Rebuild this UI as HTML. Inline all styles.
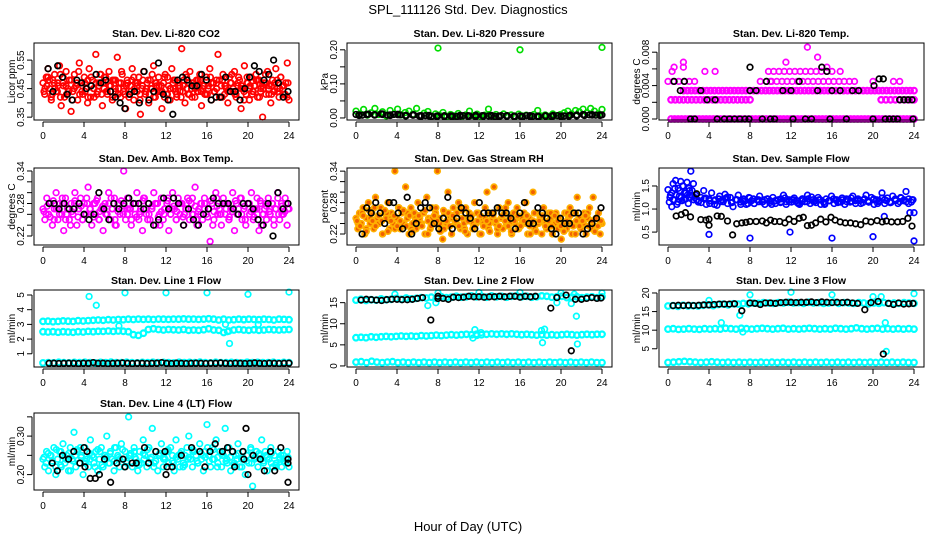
<!DOCTYPE html>
<html><head><meta charset="utf-8">
<style>
html,body{margin:0;padding:0;background:#fff;}
svg{display:block;font-family:"Liberation Sans",Arial,sans-serif;}
</style></head>
<body>
<svg id="chart" width="936" height="540" viewBox="0 0 936 540">
<text x="468" y="14" text-anchor="middle" font-size="13">SPL_111126  Std. Dev. Diagnostics</text>
<text x="468" y="531" text-anchor="middle" font-size="13">Hour of Day (UTC)</text>
</svg>
<script>
// ---------- data ----------
const xTicks = [0,4,8,12,16,20,24];

const co2Red = [0.47,0.43,0.49,0.52,0.45,0.41,0.48,0.50,0.44,0.46,0.53,0.39,0.47,0.42,0.51,0.45,0.48,0.37,0.44,0.50,0.46,0.41,0.54,0.47,0.43,0.49,0.45,0.40,0.52,0.46,0.48,0.42,0.57,0.44,0.47,0.50,0.39,0.45,0.49,0.43,0.51,0.46,0.41,0.48,0.44,0.56,0.47,0.42,0.50,0.45,0.38,0.48,0.43,0.46,0.52,0.41,0.47,0.44,0.49,0.36,0.45,0.51,0.43,0.47,0.40,0.48,0.45,0.53,0.42,0.46,0.49,0.44,0.38,0.47,0.50,0.43,0.46,0.41,0.52,0.45,0.48,0.42,0.47,0.44,0.59,0.46,0.40,0.49,0.43,0.51,0.45,0.47,0.42,0.48,0.44,0.50,0.39,0.46,0.43,0.49,0.45,0.52,0.41,0.47,0.44,0.48,0.57,0.42,0.46,0.50,0.43,0.45,0.40,0.49,0.47,0.44,0.51,0.42,0.46,0.48,0.38,0.45,0.53,0.43,0.47,0.41,0.49,0.44,0.46,0.50,0.42,0.48,0.45,0.35,0.47,0.43,0.51,0.46,0.40,0.48,0.44,0.52,0.45,0.42,0.49,0.46,0.43,0.47,0.54,0.41];
const co2Red2 = [0.45,0.49,0.42,0.47,0.44,0.50,0.46,0.43,0.48,0.41,0.46,0.51,0.44,0.47,0.42,0.49,0.45,0.43,0.50,0.47,0.44,0.46,0.42,0.48,0.45,0.51,0.43,0.47,0.44,0.49,0.46,0.41,0.48,0.45,0.43,0.50,0.47,0.44,0.46,0.42,0.49,0.45,0.48,0.43,0.46,0.44,0.50,0.47,0.42,0.45,0.48,0.44,0.46,0.43,0.49,0.47,0.45,0.42,0.48,0.46,0.44,0.50,0.43,0.47,0.45,0.41,0.49,0.46,0.44,0.48,0.42,0.46,0.50,0.45,0.43,0.47,0.44,0.49,0.46,0.42];
const co2Red3 = [0.44,0.46,0.48,0.43,0.45,0.47,0.42,0.49,0.46,0.44,0.48,0.45,0.47,0.43,0.46,0.44,0.48,0.42,0.45,0.47,0.46,0.43,0.49,0.44,0.46,0.48,0.45,0.43,0.47,0.44,0.46,0.42,0.48,0.45,0.47,0.43,0.46,0.44,0.48,0.45,0.42,0.47,0.46,0.44,0.49,0.43,0.45,0.47,0.44,0.46,0.42,0.48,0.45,0.43,0.47,0.46,0.44,0.48,0.45,0.43,0.46,0.47,0.44,0.45,0.48,0.42,0.46,0.44,0.47,0.45,0.43,0.49,0.46,0.44,0.47,0.45,0.43,0.46,0.48,0.44,0.45,0.47,0.43,0.46,0.44,0.48,0.45,0.46,0.43,0.47];
const co2Black = [0.52,0.44,0.53,0.49,0.43,0.41,0.48,0.47,0.45,0.46,0.50,0.47,0.48,0.44,0.42,0.40,0.38,0.43,0.44,0.40,0.51,0.41,0.44,0.54,0.43,0.41,0.36,0.48,0.49,0.48,0.46,0.46,0.50,0.48,0.41,0.42,0.42,0.49,0.44,0.44,0.41,0.45,0.49,0.53,0.51,0.48,0.50,0.55,0.47,0.42,0.44];

const presGreen = [0.02,0.012,0.025,0.008,0.015,0.028,0.01,0.018,0.006,0.022,0.012,0.026,0.009,0.016,0.02,0.011,0.028,0.007,0.014,0.019,0.005,0.012,0.008,0.016,0.004,0.01,0.006,0.013,0.005,0.009,0.02,0.007,0.011,0.004,0.008,0.026,0.006,0.01,0.005,0.012,0.007,0.009,0.004,0.011,0.006,0.008,0.005,0.01,0.022,0.006,0.009,0.005,0.012,0.007,0.01,0.015,0.02,0.012,0.022,0.018,0.026,0.015,0.028,0.02,0.012,0.025];
const presGreenOut = [[8,0.205],[16,0.2],[24,0.207]];
const presBlack = [0.01,0.008,0.011,0.009,0.012,0.008,0.01,0.009,0.007,0.008,0.006,0.007,0.005,0.006,0.004,0.006,0.005,0.007,0.006,0.008,0.007,0.006,0.005,0.007,0.006,0.005,0.006,0.007,0.005,0.004,0.006,0.005,0.007,0.006,0.008,0.009,0.01,0.009,0.008,0.009];
const presBlack2 = [0.008,0.01,0.009,0.011,0.008,0.01,0.007,0.009,0.006,0.007,0.005,0.006,0.005,0.007,0.006,0.005,0.006,0.007,0.005,0.006,0.005,0.004,0.006,0.005,0.006,0.007,0.005,0.006,0.007,0.008,0.009,0.008];

const tempZero = [0,0,0,0,0,0,0,0,0,0,0,0,0,0,0,0,0,0,0,0,0,0,0,0,0,0,0,0,0,0,0,0,0,0,0,0,0,0,0,0,0,0,0,0,0,0,0,0,0,0,0,0,0,0,0,0,0,0,0,0,0,0,0,0,0,0,0,0,0,0];
const temp23a = [0.0023,0.0023,0.0023,0.0023,0.0023,0.0023,0.0023,0.0023,0.0023,0.0023,0.0023,0.0023,0.0023,0.0023,0.0023,0.0023,0.0023,0.0023,0.0023,0.0023];
const temp23b = [0.0023,0.0023,0.0023,0.0023,0.0023,0.0023,0.0023,0.0023];
const temp34 = [0.0034,0.0034,0.0034,0.0034,0.0034,0.0034,0.0034,0.0034,0.0034,0.0034,0.0034,0.0034,0.0034,0.0034,0.0034,0.0034,0.0034,0.0034,0.0034,0.0034,0.0034,0.0034,0.0034,0.0034,0.0034,0.0034,0.0034,0.0034,0.0034,0.0034,0.0034,0.0034,0.0034,0.0034,0.0034,0.0034,0.0034,0.0034,0.0034,0.0034,0.0034,0.0034,0.0034,0.0034,0.0034,0.0034,0.0034,0.0034,0.0034,0.0034,0.0034,0.0034,0.0034,0.0034,0.0034,0.0034,0.0034,0.0034,0.0034,0.0034];
const temp45a = [0.0045,0.0045,0.0045,0.0045,0.0045,0.0045];
const temp45b = [0.0045,0.0045,0.0045,0.0045,0.0045,0.0045,0.0045,0.0045,0.0045,0.0045,0.0045,0.0045,0.0045,0.0045,0.0045,0.0045,0.0045,0.0045];
const temp57 = [0.0057,0.0057,0.0057,0.0057,0.0057,0.0057,0.0057,0.0057,0.0057,0.0057,0.0057,0.0057,0.0057];
const tempMagOut = [[0.4,0.0057],[0.6,0.0062],[1.5,0.0062],[1.5,0.0068],[3.6,0.0057],[4.6,0.0057],[11.5,0.0068],[13.6,0.0086],[14.6,0.0074],[15.5,0.0062],[16.8,0.0057],[20,0.0045],[22,0.0045],[22.6,0.0045],[9,0.0045],[10,0.0045]];
const tempBlack = [[0.6,0.0045],[1.2,0.0034],[1.6,0.0045],[2.2,0],[2.6,0],[3.2,0.0034],[3.8,0.0023],[4.6,0.0023],[4.8,0],[5.5,0],[6,0],[6.5,0],[7,0],[7.5,0],[7.9,0],[8,0.0062],[8,0.0034],[8.6,0.0034],[9.2,0],[9.6,0.0045],[10,0],[10.4,0],[11.2,0.0034],[12,0.0034],[12.2,0],[12.8,0.0045],[13.4,0],[14,0],[14.6,0.0034],[15,0.0062],[15.5,0.0057],[15.8,0],[16,0.0034],[16.8,0.0034],[17.4,0],[18,0.0034],[18.6,0.0034],[20,0],[20.1,0.0040],[20.6,0.0048],[21,0.0048],[21.2,0],[21.6,0],[22,0],[22.4,0],[22.6,0.0023],[23,0.0023],[23.4,0.0023],[23.8,0.0023],[23.9,0]];

const ambMag = [0.27,0.25,0.29,0.26,0.28,0.24,0.27,0.30,0.25,0.28,0.26,0.23,0.29,0.27,0.25,0.28,0.26,0.30,0.24,0.27,0.29,0.25,0.28,0.26,0.31,0.27,0.24,0.28,0.26,0.29,0.25,0.27,0.23,0.28,0.26,0.30,0.25,0.27,0.29,0.24,0.28,0.26,0.27,0.34,0.25,0.29,0.27,0.24,0.28,0.26,0.30,0.25,0.27,0.23,0.29,0.26,0.28,0.25,0.27,0.30,0.24,0.28,0.26,0.29,0.25,0.27,0.28,0.23,0.26,0.30,0.27,0.25,0.29,0.26,0.28,0.24,0.27,0.29,0.25,0.28,0.26,0.31,0.24,0.27,0.28,0.25,0.29,0.26,0.27,0.21,0.28,0.25,0.30,0.26,0.27,0.24,0.29,0.26,0.28,0.25,0.27,0.30,0.23,0.28,0.26,0.29,0.25,0.27,0.24,0.28,0.26,0.30,0.25,0.27,0.29,0.23,0.28,0.26,0.27,0.25,0.29,0.26,0.28,0.24,0.27,0.30,0.25,0.28,0.26,0.29,0.24,0.27];
const ambMag2 = [0.26,0.28,0.25,0.27,0.29,0.26,0.24,0.28,0.27,0.25,0.29,0.26,0.28,0.25,0.27,0.26,0.29,0.24,0.28,0.26,0.27,0.25,0.28,0.26,0.29,0.25,0.27,0.28,0.24,0.26,0.29,0.27,0.25,0.28,0.26,0.27,0.29,0.25,0.26,0.28,0.27,0.24,0.29,0.26,0.28,0.25,0.27,0.26,0.29,0.25,0.28,0.27,0.26,0.24,0.28,0.27,0.25,0.29,0.26,0.28];
const ambMag3 = [0.265,0.275,0.255,0.285,0.27,0.26,0.28,0.25,0.27,0.265,0.285,0.255,0.275,0.26,0.28,0.27,0.255,0.285,0.265,0.275,0.26,0.28,0.27,0.25,0.265,0.285,0.275,0.26,0.27,0.28,0.255,0.265,0.285,0.27,0.26,0.275,0.28,0.255,0.265,0.27,0.285,0.26,0.275,0.265,0.28,0.255,0.27,0.285,0.26,0.275,0.265,0.28,0.27,0.255,0.285,0.265,0.275,0.26,0.28,0.27,0.255,0.265,0.285,0.27,0.26,0.275,0.28,0.265,0.255,0.27,0.285,0.26,0.275,0.265,0.28,0.27,0.26,0.275,0.265,0.27];
const ambBlack = [0.28,0.28,0.27,0.28,0.27,0.27,0.28,0.26,0.25,0.26,0.30,0.27,0.25,0.28,0.27,0.28,0.29,0.28,0.28,0.27,0.28,0.24,0.25,0.29,0.27,0.29,0.28,0.24,0.27,0.25,0.24,0.26,0.27,0.29,0.28,0.28,0.28,0.27,0.26,0.28,0.28,0.27,0.25,0.24,0.28,0.22,0.30,0.27,0.28];

const rhOrange = [0.25,0.23,0.26,0.24,0.27,0.22,0.25,0.28,0.24,0.26,0.23,0.29,0.25,0.24,0.27,0.22,0.26,0.25,0.28,0.23,0.26,0.24,0.34,0.25,0.27,0.23,0.26,0.24,0.31,0.25,0.22,0.27,0.24,0.26,0.23,0.28,0.25,0.24,0.26,0.22,0.29,0.25,0.23,0.27,0.24,0.26,0.34,0.25,0.23,0.21,0.26,0.24,0.30,0.25,0.22,0.27,0.24,0.26,0.28,0.23,0.25,0.24,0.27,0.22,0.26,0.25,0.23,0.28,0.24,0.26,0.22,0.25,0.24,0.27,0.30,0.23,0.26,0.25,0.31,0.24,0.22,0.27,0.25,0.23,0.26,0.24,0.28,0.25,0.22,0.26,0.24,0.27,0.23,0.25,0.24,0.26,0.28,0.22,0.25,0.24,0.30,0.23,0.26,0.24,0.25,0.22,0.27,0.24,0.23,0.26,0.25,0.22,0.24,0.26,0.23,0.25,0.21,0.24,0.26,0.23,0.25,0.27,0.22,0.24,0.26,0.29,0.25,0.23,0.24,0.26,0.22,0.25,0.27,0.24,0.29,0.23,0.25,0.26,0.22,0.24];
const rhOrange2 = [0.24,0.26,0.23,0.25,0.27,0.24,0.22,0.26,0.25,0.23,0.27,0.24,0.26,0.23,0.25,0.24,0.26,0.22,0.25,0.27,0.24,0.23,0.26,0.25,0.24,0.27,0.23,0.25,0.24,0.26,0.22,0.25,0.24,0.26,0.23,0.25,0.27,0.24,0.26,0.23,0.25,0.24,0.22,0.26,0.24,0.25,0.23,0.26,0.24,0.25,0.23,0.26,0.24,0.22,0.25,0.24,0.26,0.23,0.25,0.24];
const rhOrange3 = [0.245,0.235,0.255,0.225,0.265,0.245,0.235,0.255,0.245,0.265,0.225,0.245,0.255,0.235,0.245,0.265,0.235,0.255,0.225,0.245,0.255,0.235,0.265,0.245,0.235,0.255,0.245,0.225,0.265,0.245,0.235,0.255,0.245,0.235,0.265,0.225,0.245,0.255,0.235,0.245,0.255,0.235,0.245,0.225,0.255,0.245,0.235,0.255,0.245,0.235,0.225,0.245,0.255,0.235,0.245,0.255,0.235,0.245,0.225,0.245,0.255,0.235,0.245,0.235,0.255,0.245,0.235,0.225,0.245,0.255,0.235,0.245,0.235,0.245,0.255,0.235,0.245,0.225,0.235,0.245];
const rhBlack = [0.22,0.27,0.26,0.28,0.26,0.24,0.28,0.28,0.26,0.23,0.29,0.22,0.24,0.27,0.28,0.27,0.24,0.23,0.25,0.29,0.23,0.25,0.27,0.26,0.25,0.23,0.28,0.26,0.26,0.26,0.27,0.26,0.26,0.25,0.23,0.26,0.28,0.24,0.24,0.27,0.26,0.25,0.23,0.22,0.25,0.24,0.24,0.26,0.26,0.22,0.23,0.24,0.25,0.27];

const flowBlueEarly = [1.42,1.15,1.3,1.05,1.55,1.2,1.62,1.1,1.45,1.28,1.6,1.18,1.5,1.35,1.22,1.58,1.12,1.4,1.82,1.3,1.55,1.25];
const flowBlueEarly2 = [1.25,1.35,1.2,1.45,1.3,1.15,1.4,1.25,1.5,1.2,1.35,1.3,1.45,1.25,1.4,1.2];
const flowBlue = [1.3,1.15,1.25,1.4,1.1,1.22,1.35,1.18,1.08,1.28,1.2,1.32,1.12,1.25,1.05,1.2,1.3,1.15,1.22,1.1,1.25,1.18,1.12,1.2,1.28,1.15,1.1,1.22,1.18,1.25,1.12,1.2,1.16,1.3,1.1,1.2,1.15,1.24,1.18,1.1,1.22,1.16,1.3,1.12,1.2,1.18,1.25,1.1,1.15,1.22,1.18,1.28,1.12,1.2,1.16,1.24,1.1,1.2,1.15,1.28,1.18,1.22,1.12,1.2,1.3,1.15,1.25,1.1,1.2,1.18,1.35,1.12,1.24,1.16,1.28,1.2,1.12,1.25,1.18,1.38,1.22,1.15,0.92];
const flowBlue2 = [1.18,1.22,1.12,1.2,1.16,1.24,1.14,1.2,1.18,1.12,1.22,1.16,1.2,1.14,1.18,1.22,1.16,1.2,1.14,1.18,1.22,1.16,1.2,1.12,1.18,1.2,1.15,1.22,1.17,1.2,1.14,1.18,1.22,1.16,1.2,1.14,1.18,1.24,1.16,1.2];
const flowBlue3 = [1.2,1.14,1.24,1.18,1.1,1.22,1.16,1.26,1.14,1.2,1.1,1.18,1.24,1.12,1.2,1.16,1.22,1.1,1.18,1.14,1.24,1.16,1.2,1.12,1.22,1.16,1.26,1.14,1.2,1.1,1.18,1.22,1.14,1.2,1.16,1.24,1.12,1.18,1.22,1.15,1.2,1.12,1.24,1.18,1.14,1.22,1.16,1.2,1.12,1.2];
const flowBlueOut = [[4,0.45],[8,0.37],[11.9,0.5],[16,0.37],[20,0.4],[21.1,0.84],[24,0.31],[23.6,0.92]];
const flowBlack = [[0.8,0.85],[1.3,0.88],[1.7,0.92],[2.2,0.83],[2.8,1.33],[3.2,0.77],[3.7,0.76],[4,0.78],[4,0.65],[4.8,0.85],[5.2,0.84],[5.8,0.74],[6.3,0.44],[6.7,0.68],[7.2,0.7],[7.6,0.71],[8,0.73],[8.6,0.73],[9.2,0.74],[9.6,0.7],[10,0.76],[10.4,0.73],[10.9,0.73],[11.4,0.7],[11.8,0.78],[12.3,0.73],[12.8,0.8],[13.2,0.82],[13.6,0.64],[14,0.65],[14.4,0.7],[14.9,0.78],[15.4,0.72],[15.9,0.82],[16.3,0.76],[16.8,0.72],[17.3,0.7],[17.8,0.7],[18.3,0.68],[18.8,0.66],[19.3,0.74],[19.8,0.72],[20.4,0.75],[20.9,0.72],[21.3,0.74],[21.8,0.72],[22.4,0.72],[22.9,0.73],[23.4,0.8],[23.8,0.63]];

const l1Top = [3.2,3.22,3.18,3.2,3.24,3.22,3.2,3.25,3.23,3.26,3.28,3.3,3.28,3.32,3.3,3.33,3.32,3.35,3.33,3.36,3.34,3.35,3.33,3.36,3.35,3.34,3.36,3.35,3.37,3.35,3.36,3.34,3.36,3.38,3.35,3.3,3.35,3.3,3.32,3.35,3.33,3.35,3.34,3.32,3.35,3.33,3.3,3.35,3.34,3.32];
const l1Mid = [2.5,2.48,2.5,2.47,2.5,2.48,2.46,2.5,2.48,2.52,2.5,2.53,2.52,2.55,2.52,2.55,2.53,2.5,2.3,2.25,2.4,2.65,2.7,2.65,2.62,2.65,2.63,2.62,2.65,2.6,2.62,2.6,2.64,2.7,2.62,2.6,2.45,2.55,2.62,2.65,2.62,2.6,2.63,2.6,2.62,2.65,2.63,2.62,2.64,2.65];
const l1Low = [0.38,0.4,0.38,0.42,0.4,0.38,0.41,0.39,0.42,0.4,0.38,0.41,0.4,0.43,0.4,0.39,0.42,0.4,0.38,0.41,0.4,0.42,0.39,0.41,0.4,0.38,0.42,0.4,0.41,0.39,0.43,0.4,0.38,0.42,0.4,0.39,0.41,0.4,0.38,0.42,0.4,0.41,0.39,0.4,0.42,0.38,0.41,0.4];
const l1Out = [[4.5,4.9],[5.2,4.3],[8,5.15],[12,5.15],[16,5.15],[20,5.05],[24,5.2],[18.2,1.7],[17.8,3.0],[18,2.5],[19.6,3.3],[21,3.0],[7.4,2.9]];
const l1Black = [0.35,0.36,0.34,0.35,0.36,0.35,0.34,0.36,0.35,0.4,0.35,0.36,0.34,0.35,0.36,0.38,0.35,0.34,0.36,0.35,0.34,0.35,0.36,0.4,0.35,0.34,0.36,0.35,0.34,0.35,0.36,0.35,0.34,0.36,0.35,0.38,0.35,0.34,0.36,0.35,0.34,0.35,0.38,0.35,0.34,0.36,0.35,0.34,0.35,0.36];

const l2Top = [15.6,15.8,15.5,15.7,15.6,15.9,15.7,15.8,16.0,15.8,16.1,15.9,16.0,16.2,16.1,16.3,16.0,16.4,16.2,16.3,16.5,16.3,16.4,16.6,16.4,16.5,16.3,16.6,16.4,16.5,16.3,16.5,16.6,16.4,16.5,16.3,16.4,16.6,16.5,16.3,16.4,16.5,16.2,16.3,16.4,16.2,16.3,16.4,16.2,16.4];
const l2Mid = [6.7,6.8,6.7,6.9,6.8,6.9,7.0,6.9,7.0,7.1,7.0,7.1,7.0,7.2,7.1,7.2,7.3,7.2,7.3,7.4,7.3,7.4,7.5,7.4,7.5,7.4,7.5,7.6,7.5,7.6,7.5,7.6,7.5,7.4,7.5,7.4,7.3,7.4,7.3,7.4,7.3,7.4,7.5,7.4,7.3,7.4,7.5,7.4,7.5,7.5];
const l2Low = [0.9,1.0,0.8,1.1,0.9,0.8,0.9,1.0,0.8,0.9,0.8,0.9,0.8,0.9,0.8,0.9,0.8,0.9,0.8,0.9,0.8,0.9,0.8,0.9,0.8,0.9,0.8,0.9,0.8,0.9,0.8,0.9,0.8,0.9,0.8,0.9,0.8,0.9,0.8,0.9,0.8,0.9,0.8,0.9,0.8,0.9,0.8,0.8];
const l2Out = [[3.8,17.0],[7,14.3],[7.8,15.0],[8,17.3],[12,17.4],[16,17.4],[11.6,8.6],[11.4,6.6],[11.8,7.2],[12.2,7.9],[18.2,5.5],[18.1,8.4],[18.4,8.7],[19.6,15.0],[20,17.3],[21,14.8],[21.3,17.0],[21.5,11.8],[21.6,5.2],[24,17.3]];
const l2Black = [[0.5,15.6],[1,15.8],[1.5,15.7],[2,15.6],[2.5,15.5],[3,15.7],[3.5,15.8],[4,15.8],[4.5,15.7],[5,15.7],[5.5,15.8],[6,16.0],[6.5,16.2],[7.3,10.9],[8,16.5],[8,16.0],[8.5,16.0],[9,15.8],[9.5,16.3],[10,16.2],[10.5,16.3],[11,16.5],[11.5,16.4],[12,16.4],[12.5,16.3],[13,16.4],[13.5,16.4],[14,16.5],[14.5,16.4],[15,16.5],[15.5,16.5],[16,16.3],[16.5,16.5],[17,16.4],[17.5,16.5],[19,13.7],[19.6,16.2],[20.5,16.8],[21,3.6],[21.4,15.8],[22,15.8],[22.5,16.0],[23,16.2],[23.5,16.0],[23.9,16.1]];

const l3Top = [16.5,16.6,16.4,16.7,16.5,16.6,16.5,16.7,16.8,16.6,16.9,17.0,16.8,17.1,17.0,17.2,17.1,17.3,17.2,17.4,17.3,17.2,17.4,17.3,17.5,17.3,17.4,17.2,17.5,17.3,17.4,17.2,17.3,17.5,17.2,17.4,17.3,17.2,17.4,17.3,17.1,17.3,17.2,17.4,17.2,17.3,17.2,17.4,17.3,17.2];
const l3Mid = [10.3,10.4,10.2,10.3,10.4,10.3,10.2,10.4,10.3,10.4,10.3,10.5,10.4,10.3,10.5,10.4,10.3,10.4,10.5,10.4,10.3,10.4,10.5,10.3,10.4,10.3,10.4,10.5,10.4,10.3,10.4,10.3,10.5,10.4,10.3,10.4,10.6,10.4,10.3,10.4,10.5,10.3,10.4,10.3,10.4,10.3,10.4,10.3];
const l3Low = [1.3,1.4,1.5,1.6,1.5,1.4,1.3,1.4,1.5,1.4,1.3,1.4,1.3,1.4,1.3,1.4,1.3,1.4,1.3,1.4,1.3,1.4,1.3,1.4,1.3,1.4,1.3,1.4,1.3,1.4,1.3,1.4,1.3,1.4,1.3,1.4,1.3,1.4,1.3,1.4,1.3,1.4,1.3,1.4,1.3,1.3];
const l3Out = [[4,18.0],[5.2,12.0],[7,14.0],[7.3,9.5],[8,19.5],[12,20.2],[16,19.5],[20,19.0],[20.8,19.0],[21.3,4.3],[21.2,12.0],[24,19.8]];
const l3Black = [[0.5,16.6],[1,16.7],[1.5,16.6],[2,16.7],[2.5,16.6],[3,16.7],[3.5,16.8],[4,16.8],[4.5,16.9],[5,17.0],[5.5,17.0],[6,17.0],[6.5,17.1],[7.2,15.2],[8,17.3],[8.5,17.2],[9,16.9],[9.5,17.3],[10,17.3],[10.5,17.2],[11,17.4],[11.5,17.5],[12,17.5],[12.5,17.4],[13,17.5],[13.5,17.5],[14,17.6],[14.5,17.4],[15,17.6],[15.5,17.5],[16,17.4],[16.5,17.5],[17,17.4],[17.5,17.5],[18,17.3],[18.5,17.2],[19.2,15.5],[19.8,17.4],[20.5,17.7],[21,3.6],[21.5,17.2],[22,16.9],[22.5,17.3],[23,17.0],[23.5,17.1],[23.9,17.2]];

const l4Cyan = [0.24,0.22,0.26,0.21,0.25,0.23,0.27,0.20,0.24,0.26,0.22,0.28,0.23,0.25,0.21,0.27,0.24,0.31,0.22,0.26,0.23,0.25,0.20,0.27,0.24,0.22,0.29,0.25,0.23,0.26,0.21,0.24,0.27,0.22,0.25,0.30,0.23,0.26,0.24,0.21,0.27,0.25,0.22,0.28,0.24,0.26,0.23,0.35,0.25,0.22,0.27,0.24,0.21,0.26,0.23,0.29,0.25,0.22,0.27,0.24,0.32,0.23,0.26,0.21,0.25,0.28,0.22,0.24,0.26,0.23,0.27,0.25,0.21,0.29,0.24,0.22,0.26,0.23,0.25,0.27,0.30,0.24,0.22,0.26,0.25,0.23,0.28,0.24,0.21,0.26,0.33,0.25,0.22,0.27,0.24,0.29,0.23,0.26,0.22,0.25,0.32,0.24,0.27,0.21,0.26,0.23,0.25,0.28,0.22,0.24,0.26,0.20,0.25,0.23,0.27,0.17,0.24,0.26,0.22,0.25,0.29,0.23,0.26,0.21,0.24,0.27,0.22,0.25,0.23,0.26,0.24,0.22,0.25,0.23,0.26,0.22];
const l4Cyan2 = [0.23,0.25,0.22,0.26,0.24,0.21,0.25,0.27,0.23,0.24,0.22,0.26,0.25,0.23,0.27,0.24,0.22,0.25,0.26,0.23,0.24,0.27,0.22,0.25,0.24,0.26,0.23,0.25,0.22,0.24,0.26,0.23,0.25,0.27,0.24,0.22,0.25,0.23,0.26,0.24,0.22,0.25,0.23,0.26,0.24,0.25,0.23,0.22,0.25,0.24];
const l4Cyan3 = [0.245,0.255,0.235,0.265,0.225,0.245,0.255,0.235,0.265,0.245,0.235,0.255,0.245,0.265,0.225,0.245,0.255,0.235,0.245,0.265,0.235,0.255,0.245,0.225,0.255,0.265,0.245,0.235,0.255,0.245,0.265,0.235,0.245,0.255,0.225,0.245,0.265,0.235,0.255,0.245,0.235,0.265,0.245,0.255,0.235,0.245,0.225,0.255,0.245,0.235,0.265,0.245,0.255,0.235,0.245,0.255,0.225,0.245,0.235,0.245];
const l4Black = [[0.9,0.23],[1.4,0.21],[1.9,0.25],[2.5,0.24],[3,0.26],[3.6,0.23],[4,0.27],[4.1,0.22],[4.3,0.26],[4.6,0.19],[5.1,0.19],[5.5,0.20],[6,0.24],[6.6,0.18],[7.2,0.23],[7.8,0.24],[8,0.22],[8.7,0.23],[9.1,0.23],[9.9,0.27],[10.3,0.23],[11,0.26],[11.9,0.26],[12,0.20],[12.1,0.22],[12.6,0.22],[13.5,0.25],[14.5,0.27],[15.3,0.26],[15.8,0.22],[16.3,0.26],[16.8,0.28],[17.5,0.26],[18,0.27],[18.5,0.26],[18.7,0.22],[19.5,0.26],[19.6,0.24],[19.8,0.32],[20,0.20],[20.5,0.25],[21.2,0.24],[21.6,0.21],[22.2,0.26],[22.6,0.21],[23.2,0.27],[23.9,0.24],[23.9,0.23],[23.9,0.18]];

// ---------- layout ----------
const colX0 = [43, 356, 668];
const rowTop = [43, 168, 290, 413];
const PH = 77, PW = 246;

const svg = document.getElementById('chart');
const NS = 'http://www.w3.org/2000/svg';
function mk(tag, attrs, parent){ const e=document.createElementNS(NS,tag); for(const k in attrs) e.setAttribute(k,attrs[k]); (parent||svg).appendChild(e); return e; }

function panel(key, row, col, title, ytitle, yDom, yTicks, yLabels, series){
  const x0 = colX0[col], top = rowTop[row], bot = top+PH;
  const g = mk('g',{});
  
  
  const xs = h => x0 + h/24*PW;
  const ys = v => bot - (v - yDom[0])/(yDom[1]-yDom[0])*PH;
  const t = mk('text',{x:x0+PW/2,y:top-6,'text-anchor':'middle','font-size':'10.5','font-weight':'bold'},g);
  t.textContent = title;
  
  
  const yt = mk('text',{x:0,y:0,'text-anchor':'middle','font-size':'10',transform:`translate(${x0-28},${(top+bot)/2}) rotate(-90)`},g);
  yt.textContent = ytitle;
  
  
  const pts = mk('g',{},g);
  
  
  series.forEach(s=>{
    const n = s.vals.length;
    s.vals.forEach((v,i)=>{
      let h, y;
      if (Array.isArray(v)) { h=v[0]; y=v[1]; }
      else { h = s.from + (n>1 ? i*(s.to-s.from)/(n-1) : 0); y=v; }
      const c = mk('circle',{cx:xs(h).toFixed(1),cy:ys(y).toFixed(1),r:s.r||2.8,fill:s.fill||'none',stroke:s.color,'stroke-width':s.sw||1.7},pts);
      
      
    });
  });
  const box = mk('rect',{x:x0-9,y:top,width:PW+19,height:PH,fill:'none',stroke:'#000','stroke-width':1},g);
  
  
  mk('line',{x1:xs(0),x2:xs(24),y1:bot+2,y2:bot+2,stroke:'#000'},g);
  xTicks.forEach(h=>{
    mk('line',{x1:xs(h),x2:xs(h),y1:bot+2,y2:bot+7,stroke:'#000'},g);
    const l = mk('text',{x:xs(h),y:bot+19,'text-anchor':'middle','font-size':'10'},g);
    l.textContent = h;
    
    
  });
  mk('line',{x1:x0-11,x2:x0-11,y1:ys(yTicks[0]),y2:ys(yTicks[yTicks.length-1]),stroke:'#000'},g);
  yTicks.forEach((v,i)=>{
    const yy = ys(v);
    mk('line',{x1:x0-16,x2:x0-11,y1:yy,y2:yy,stroke:'#000'},g);
    if (yLabels[i]) {
      const l = mk('text',{x:0,y:0,'text-anchor':'middle','font-size':'10',transform:`translate(${x0-19},${yy}) rotate(-90)`},g);
      l.textContent = yLabels[i];
      
      
    }
  });
}

const RED='#ff0000', BLK='#000000', GRN='#00dd00', MAG='#ff00ff', CYN='#00ffff', BLU='#0000ff', ORG='#ffb000';
const BAND = 2.2;

panel('co2',0,0,'Stan. Dev. Li-820 CO2','Licor ppm',[0.34,0.61],[0.35,0.40,0.45,0.50,0.55],['0.35','','0.45','','0.55'],[
  {name:'co2-red',color:RED,from:0,to:24,vals:co2Red},
  {name:'co2-red',color:RED,from:0.2,to:23.8,vals:co2Red2},
  {name:'co2-red',color:RED,from:0.1,to:23.9,vals:co2Red3},
  {name:'co2-black',color:BLK,from:0.5,to:23.9,vals:co2Black}]);
panel('pressure',0,1,'Stan. Dev. Li-820 Pressure','kPa',[-0.006,0.22],[0,0.05,0.10,0.15,0.20],['0.00','','0.10','','0.20'],[
  {name:'pressure-green',color:GRN,from:0,to:24,vals:presGreen},
  {name:'pressure-green',color:GRN,vals:presGreenOut},
  {name:'pressure-black',color:BLK,from:0,to:24,vals:presBlack},
  {name:'pressure-black',color:BLK,from:0.3,to:23.8,vals:presBlack2,sw:BAND}]);
panel('temp',0,2,'Stan. Dev. Li-820 Temp.','degrees C',[-0.00012,0.0091],[0,0.002,0.004,0.006,0.008],['0.000','','0.004','','0.008'],[
  {name:'temp-magenta',color:MAG,from:0.3,to:24,vals:tempZero,sw:BAND},
  {name:'temp-magenta',color:MAG,from:0.3,to:8,vals:temp23a,sw:BAND},
  {name:'temp-magenta',color:MAG,from:20.8,to:24,vals:temp23b,sw:BAND},
  {name:'temp-magenta',color:MAG,from:1.5,to:24,vals:temp34,sw:BAND},
  {name:'temp-magenta',color:MAG,from:0,to:2.6,vals:temp45a},
  {name:'temp-magenta',color:MAG,from:9.6,to:18.2,vals:temp45b},
  {name:'temp-magenta',color:MAG,from:9.8,to:16,vals:temp57},
  {name:'temp-magenta',color:MAG,vals:tempMagOut},
  {name:'temp-black',color:BLK,vals:tempBlack}]);
panel('amb-box',1,0,'Stan. Dev. Amb. Box Temp.','degrees C',[0.2034,0.3455],[0.22,0.24,0.26,0.28,0.30,0.32,0.34],['0.22','','','0.28','','','0.34'],[
  {name:'amb-magenta',color:MAG,from:0,to:24,vals:ambMag},
  {name:'amb-magenta',color:MAG,from:0.3,to:23.7,vals:ambMag2},
  {name:'amb-magenta',color:MAG,from:0.1,to:23.9,vals:ambMag3},
  {name:'amb-black',color:BLK,from:0.6,to:23.9,vals:ambBlack}]);
panel('rh',1,1,'Stan. Dev. Gas Stream RH','percent',[0.199,0.346],[0.22,0.24,0.26,0.28,0.30,0.32,0.34],['0.22','','','0.28','','','0.34'],[
  {name:'rh-orange',color:ORG,fill:'#f06000',from:0,to:24,vals:rhOrange},
  {name:'rh-orange',color:ORG,fill:'#f06000',from:0.2,to:23.8,vals:rhOrange2},
  {name:'rh-orange',color:ORG,fill:'#f06000',from:0.1,to:23.9,vals:rhOrange3},
  {name:'rh-black',color:BLK,from:0.6,to:23.9,vals:rhBlack}]);
panel('sample-flow',1,2,'Stan. Dev. Sample Flow','ml/min',[0.22,1.89],[0.5,1.0,1.5],['0.5','1.0','1.5'],[
  {name:'flow-blue',color:BLU,from:0,to:2.6,vals:flowBlueEarly},
  {name:'flow-blue',color:BLU,from:0.2,to:2.5,vals:flowBlueEarly2},
  {name:'flow-blue',color:BLU,from:2.7,to:24,vals:flowBlue},
  {name:'flow-blue',color:BLU,from:3,to:23.8,vals:flowBlue2},
  {name:'flow-blue',color:BLU,from:2.8,to:23.9,vals:flowBlue3},
  {name:'flow-blue',color:BLU,vals:flowBlueOut},
  {name:'flow-black',color:BLK,vals:flowBlack}]);
panel('line1',2,0,'Stan. Dev. Line 1 Flow','ml/min',[0.1,5.34],[1,2,3,4,5],['1','2','3','4','5'],[
  {name:'line1-cyan',color:CYN,from:0,to:24,vals:l1Top,sw:BAND},
  {name:'line1-cyan',color:CYN,from:0,to:24,vals:l1Mid,sw:BAND},
  {name:'line1-cyan',color:CYN,from:0,to:24,vals:l1Low,sw:BAND},
  {name:'line1-cyan',color:CYN,vals:l1Out},
  {name:'line1-black',color:BLK,from:0.6,to:24,vals:l1Black}]);
panel('line2',2,1,'Stan. Dev. Line 2 Flow','ml/min',[-0.25,18],[0,5,10,15],['0','5','10','15'],[
  {name:'line2-cyan',color:CYN,from:0,to:24,vals:l2Top,sw:BAND},
  {name:'line2-cyan',color:CYN,from:0,to:24,vals:l2Mid,sw:BAND},
  {name:'line2-cyan',color:CYN,from:0,to:24,vals:l2Low,sw:BAND},
  {name:'line2-cyan',color:CYN,vals:l2Out},
  {name:'line2-black',color:BLK,vals:l2Black}]);
panel('line3',2,2,'Stan. Dev. Line 3 Flow','ml/min',[0.1,20.8],[5,10,15,20],['5','10','15','20'],[
  {name:'line3-cyan',color:CYN,from:0,to:24,vals:l3Top,sw:BAND},
  {name:'line3-cyan',color:CYN,from:0,to:24,vals:l3Mid,sw:BAND},
  {name:'line3-cyan',color:CYN,from:0,to:24,vals:l3Low,sw:BAND},
  {name:'line3-cyan',color:CYN,vals:l3Out},
  {name:'line3-black',color:BLK,vals:l3Black}]);
panel('line4',3,0,'Stan. Dev. Line 4 (LT) Flow','ml/min',[0.16,0.36],[0.20,0.25,0.30,0.35],['0.20','','0.30',''],[
  {name:'line4-cyan',color:CYN,from:0,to:24,vals:l4Cyan},
  {name:'line4-cyan',color:CYN,from:0.3,to:23.7,vals:l4Cyan2},
  {name:'line4-cyan',color:CYN,from:0.1,to:23.9,vals:l4Cyan3},
  {name:'line4-black',color:BLK,vals:l4Black}]);
</script>
</body></html>
